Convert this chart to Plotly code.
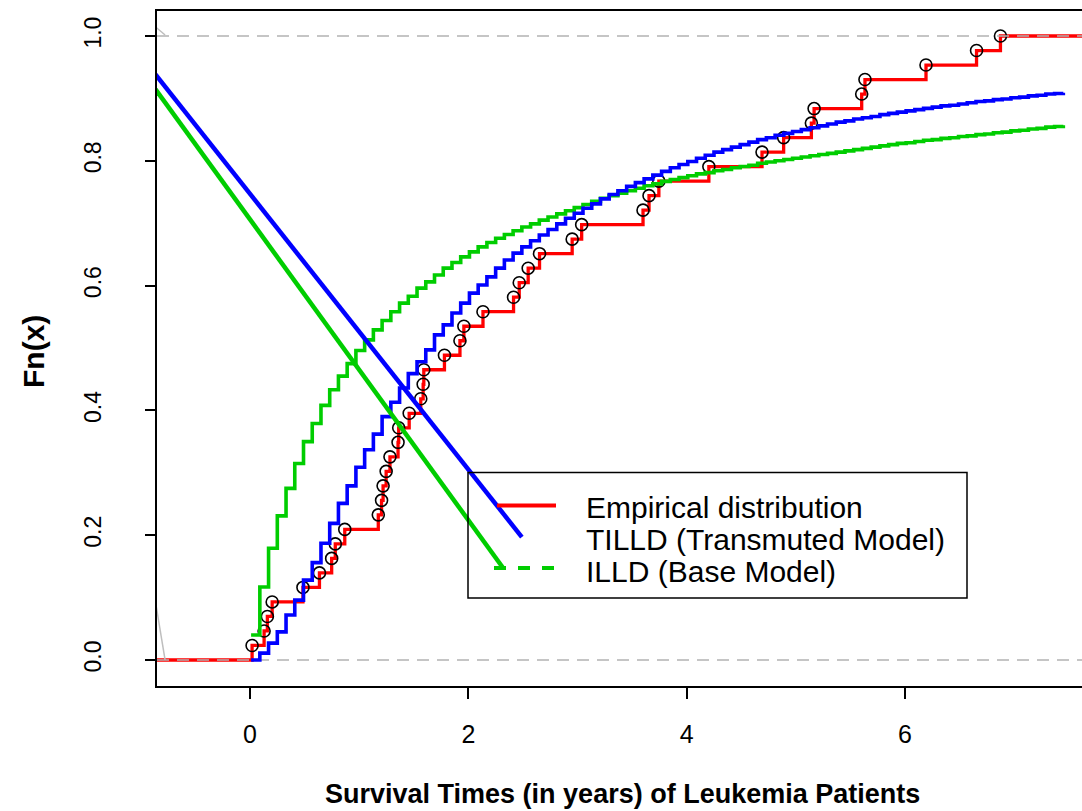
import plotly.graph_objects as go

# ---------------- data ----------------
# Survival times (years) of leukemia patients (ECDF jump points)
survival_years = [0.019, 0.129, 0.159, 0.203, 0.485, 0.636, 0.748, 0.781, 0.868,
                  1.175, 1.205, 1.219, 1.247, 1.282, 1.356, 1.362, 1.458, 1.564,
                  1.586, 1.592, 1.781, 1.923, 1.959, 2.134, 2.414, 2.466, 2.548,
                  2.652, 2.951, 3.038, 3.600, 3.655, 3.745, 4.203, 4.690, 4.888,
                  5.142, 5.167, 5.603, 5.633, 6.192, 6.655, 6.874]

# evaluation grid of the fitted CDF step curves
grid_start, grid_step, grid_n = 0.01, 0.08, 94

# TILLD (transmuted model) CDF at each grid point
tilld_cdf = [0.000, 0.011, 0.027, 0.045, 0.072, 0.096, 0.128, 0.156, 0.187, 0.219,
             0.251, 0.279, 0.309, 0.337, 0.362, 0.390, 0.413, 0.436, 0.459, 0.478,
             0.497, 0.521, 0.537, 0.556, 0.572, 0.588, 0.601, 0.614, 0.628, 0.641,
             0.652, 0.662, 0.672, 0.681, 0.690, 0.699, 0.708, 0.716, 0.724, 0.731,
             0.739, 0.746, 0.752, 0.759, 0.765, 0.771, 0.777, 0.783, 0.789, 0.794,
             0.799, 0.804, 0.809, 0.814, 0.818, 0.822, 0.826, 0.830, 0.834, 0.837,
             0.841, 0.844, 0.847, 0.850, 0.853, 0.856, 0.859, 0.862, 0.864, 0.867,
             0.869, 0.871, 0.874, 0.876, 0.878, 0.880, 0.882, 0.884, 0.886, 0.888,
             0.889, 0.891, 0.893, 0.895, 0.896, 0.898, 0.899, 0.901, 0.902, 0.904,
             0.905, 0.907, 0.908, 0.909]

# ILLD (base model) CDF at each grid point
illd_cdf = [0.040, 0.117, 0.179, 0.231, 0.275, 0.315, 0.350, 0.379, 0.408, 0.433,
            0.455, 0.475, 0.496, 0.513, 0.529, 0.544, 0.558, 0.572, 0.583, 0.596,
            0.606, 0.617, 0.628, 0.637, 0.646, 0.654, 0.662, 0.669, 0.676, 0.682,
            0.688, 0.694, 0.699, 0.705, 0.710, 0.715, 0.720, 0.725, 0.730, 0.735,
            0.740, 0.744, 0.748, 0.752, 0.756, 0.760, 0.763, 0.767, 0.770, 0.773,
            0.776, 0.779, 0.781, 0.784, 0.786, 0.789, 0.791, 0.793, 0.796, 0.798,
            0.800, 0.802, 0.804, 0.806, 0.808, 0.810, 0.812, 0.814, 0.816, 0.818,
            0.820, 0.822, 0.824, 0.826, 0.828, 0.829, 0.831, 0.833, 0.834, 0.836,
            0.837, 0.839, 0.840, 0.842, 0.843, 0.845, 0.846, 0.848, 0.849, 0.851,
            0.852, 0.854, 0.855, 0.857]

# straight segments that run from the upper-left into the legend
tilld_diag_x = [-1.0, 2.49]
tilld_diag_y = [0.968, 0.197]
illd_diag_x = [-1.0, 2.32]
illd_diag_y = [0.947, 0.147]
# small grey segments at the left edge
grey_top_x, grey_top_y = [-0.861, -0.778], [1.014, 1.0016]
grey_bot_x, grey_bot_y = [-0.861, -0.778], [0.088, 0.0]

x_ticks = [0, 2, 4, 6]
y_ticks = [0.0, 0.2, 0.4, 0.6, 0.8, 1.0]
y_tick_text = ["0.0", "0.2", "0.4", "0.6", "0.8", "1.0"]

legend_labels = ["Empirical distribution", "TILLD (Transmuted Model)", "ILLD (Base Model)"]
x_title = "Survival Times (in years) of Leukemia Patients"
y_title = "Fn(x)"

# ---------------- layout geometry ----------------
W, H = 1082, 811
L, R, T, B = 157, 0, 11, 125
X_RANGE = [-0.852, 7.621]
Y_RANGE = [-0.0417, 1.0401]
PW, PH = W - L - R, H - T - B

def px_x(px):
    return X_RANGE[0] + (px - L) / PW * (X_RANGE[1] - X_RANGE[0])

def px_y(py):
    return Y_RANGE[1] - (py - T) / PH * (Y_RANGE[1] - Y_RANGE[0])

def paper_x(px):
    return (px - L) / PW

def paper_y(py):
    return 1 - (py - T) / PH

RED, BLUE, GREEN = "#FF0000", "#0000FF", "#00CD00"
GREY = "#BEBEBE"
FONT = "Liberation Sans, Arial, sans-serif"

n = len(survival_years)
xs = sorted(survival_years)
ecdf_y = [(i + 1) / n for i in range(n)]
grid_x = [round(grid_start + grid_step * k, 4) for k in range(grid_n)]

fig = go.Figure()

# empirical step function
fig.add_trace(go.Scatter(
    x=[X_RANGE[0]] + xs + [X_RANGE[1]],
    y=[0.0] + ecdf_y + [1.0],
    mode="lines", line=dict(color=RED, width=3.3, shape="hv"),
    hoverinfo="skip", showlegend=False))
fig.add_trace(go.Scatter(
    x=xs, y=ecdf_y, mode="markers",
    marker=dict(symbol="circle-open", size=12, color="black", line=dict(width=1.6, color="black")),
    hoverinfo="skip", showlegend=False))

# grey dashed reference lines at 0 and 1
for h in (0.0, 1.0):
    fig.add_trace(go.Scatter(
        x=[X_RANGE[0], X_RANGE[1]], y=[h, h], mode="lines",
        line=dict(color="#B3B3B3", width=1.4, dash="12px,8px"),
        hoverinfo="skip", showlegend=False))

# fitted CDFs
fig.add_trace(go.Scatter(x=grid_x, y=illd_cdf, mode="lines",
                         line=dict(color=GREEN, width=3.6, shape="hv"),
                         hoverinfo="skip", showlegend=False))
fig.add_trace(go.Scatter(x=grid_x, y=tilld_cdf, mode="lines",
                         line=dict(color=BLUE, width=3.6, shape="hv"),
                         hoverinfo="skip", showlegend=False))

# diagonal segments
fig.add_trace(go.Scatter(x=tilld_diag_x, y=tilld_diag_y, mode="lines",
                         line=dict(color=BLUE, width=4.5), hoverinfo="skip", showlegend=False))
fig.add_trace(go.Scatter(x=illd_diag_x, y=illd_diag_y, mode="lines",
                         line=dict(color=GREEN, width=4.5), hoverinfo="skip", showlegend=False))
for gx, gy in ((grey_top_x, grey_top_y), (grey_bot_x, grey_bot_y)):
    fig.add_trace(go.Scatter(x=gx, y=gy, mode="lines",
                             line=dict(color=GREY, width=1.5), hoverinfo="skip", showlegend=False))

# ---------------- legend (drawn by hand, R style) ----------------
fig.add_shape(type="rect", xref="x", yref="y",
              x0=px_x(468), x1=px_x(967), y0=px_y(472.5), y1=px_y(598),
              line=dict(color="black", width=1.5), fillcolor="rgba(0,0,0,0)")
fig.add_trace(go.Scatter(x=[px_x(497), px_x(556)], y=[px_y(505.5)] * 2, mode="lines",
                         line=dict(color=RED, width=4), hoverinfo="skip", showlegend=False))
fig.add_trace(go.Scatter(x=[px_x(494), px_x(556)], y=[px_y(568)] * 2, mode="lines",
                         line=dict(color=GREEN, width=4, dash="12px,12px"),
                         hoverinfo="skip", showlegend=False))
for lab, py in zip(legend_labels, [507, 539, 571]):
    fig.add_annotation(text=lab, xref="paper", yref="paper",
                       x=paper_x(584), y=paper_y(py), xanchor="left", yanchor="middle",
                       showarrow=False, font=dict(family=FONT, size=30, color="black"))

# axis titles
fig.add_annotation(text="<b>" + x_title + "</b>", xref="paper", yref="paper",
                   x=paper_x(622), y=paper_y(794), xanchor="center", yanchor="middle",
                   showarrow=False, font=dict(family=FONT, size=27, color="black"))
fig.add_annotation(text="<b>" + y_title + "</b>", xref="paper", yref="paper",
                   x=paper_x(33), y=paper_y(352), xanchor="center", yanchor="middle",
                   textangle=-90, showarrow=False, font=dict(family=FONT, size=30, color="black"))

fig.update_layout(
    width=W, height=H,
    margin=dict(l=L, r=R, t=T, b=B, pad=0),
    paper_bgcolor="white", plot_bgcolor="white",
    showlegend=False,
    xaxis=dict(range=X_RANGE, tickmode="array", tickvals=x_ticks,
               ticktext=[str(v) for v in x_ticks],
               showgrid=False, zeroline=False, showline=True, mirror=True,
               linecolor="black", linewidth=1.5,
               ticks="outside", ticklen=11, tickwidth=1.5, tickcolor="black",
               ticklabelstandoff=14,
               tickfont=dict(family=FONT, size=25, color="black")),
    yaxis=dict(range=Y_RANGE, tickmode="array", tickvals=y_ticks, ticktext=y_tick_text,
               showgrid=False, zeroline=False, showline=True, mirror=False,
               linecolor="black", linewidth=1.5,
               ticks="outside", ticklen=10, tickwidth=1.5, tickcolor="black",
               tickangle=-90, ticklabelstandoff=35,
               tickfont=dict(family=FONT, size=23, color="black")),
)

fig.write_html("out.html")
